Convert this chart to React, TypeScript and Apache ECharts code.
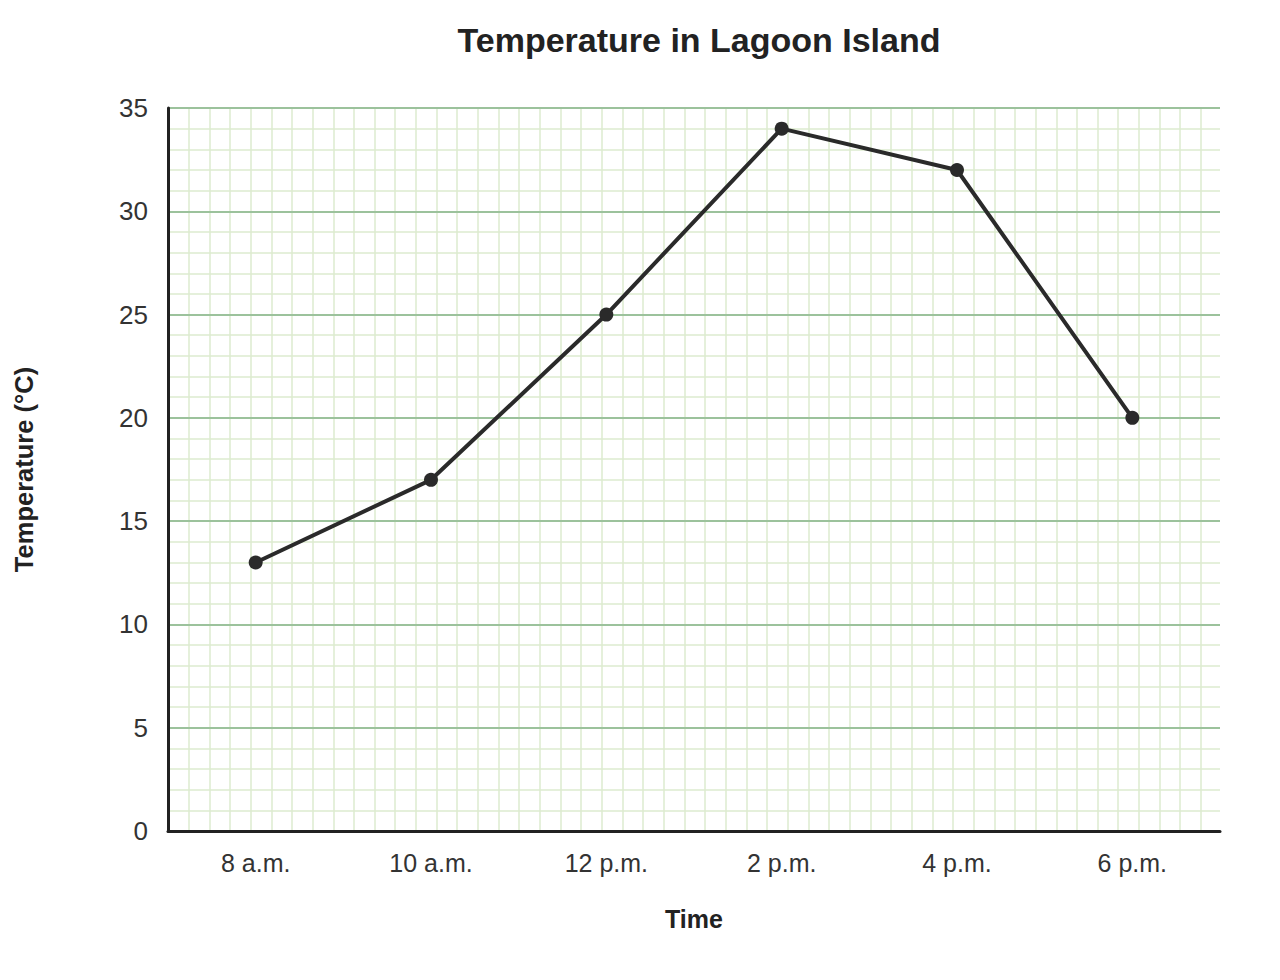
import React, { useEffect, useRef } from "react";
import * as echarts from "echarts";

const categories = ["8 a.m.", "10 a.m.", "12 p.m.", "2 p.m.", "4 p.m.", "6 p.m."];
const temperatures = [13, 17, 25, 34, 32, 20];
const yTicks = { min: 0, max: 35, interval: 5 };
const titleText = "Temperature in Lagoon Island";
const xName = "Time";
const yName = "Temperature (°C)";

const FONT = "'Liberation Sans', Arial, sans-serif";

export default function App() {
  const ref = useRef<HTMLDivElement>(null);
  useEffect(() => {
    if (!ref.current) return;
    const chart = echarts.init(ref.current, null, { renderer: "svg" });
    const gridLeft = 168, gridRight = 60, gridTop = 108, gridBottom = 149;
    const plotW = 1280 - gridLeft - gridRight;
    const plotH = 980 - gridTop - gridBottom;
    const unitPx = plotH / (yTicks.max - yTicks.min);
    const cells = Math.floor(plotW / unitPx - 0.5);
    chart.setOption({
      animation: false,
      backgroundColor: "#ffffff",
      textStyle: { fontFamily: FONT },
      title: {
        text: titleText,
        left: gridLeft + plotW / 2,
        textAlign: "center",
        top: 18,
        textStyle: { fontSize: 34, fontWeight: "bold", color: "#222", fontFamily: FONT },
      },
      grid: [
        { left: gridLeft, right: gridRight, top: gridTop, bottom: gridBottom, containLabel: false },
        { left: gridLeft, width: cells * unitPx, top: gridTop, bottom: gridBottom, containLabel: false },
      ],
      xAxis: [
        {
          type: "category",
          gridIndex: 0,
          data: categories,
          boundaryGap: true,
          name: xName,
          nameLocation: "middle",
          nameGap: 75,
          nameTextStyle: { fontSize: 25, fontWeight: "bold", color: "#222", fontFamily: FONT },
          axisLine: { show: true, lineStyle: { color: "#222", width: 3 } },
          axisTick: { show: false },
          axisLabel: { fontSize: 25, color: "#333", margin: 19, fontFamily: FONT },
          splitLine: { show: false },
          z: 5,
        },
        {
          type: "value",
          gridIndex: 1,
          min: 0,
          max: cells,
          interval: 1,
          show: true,
          axisLine: { show: false },
          axisTick: { show: false },
          axisLabel: { show: false },
          splitLine: { show: true, lineStyle: { color: "#dcebcf", width: 1.5 } },
        },
      ],
      yAxis: [
        {
          type: "value",
          gridIndex: 0,
          min: yTicks.min,
          max: yTicks.max,
          interval: yTicks.interval,
          name: yName,
          nameLocation: "middle",
          nameGap: 131,
          nameRotate: 90,
          nameTextStyle: { fontSize: 25.5, fontWeight: "bold", color: "#222", fontFamily: FONT },
          axisLine: { show: true, lineStyle: { color: "#222", width: 3 } },
          axisTick: { show: false },
          axisLabel: { fontSize: 26, color: "#333", margin: 20, fontFamily: FONT },
          splitLine: { show: true, lineStyle: { color: "#9cc29c", width: 2 } },
          minorTick: { show: false, splitNumber: 5 },
          minorSplitLine: { show: true, lineStyle: { color: "#dcebcf", width: 1.5 } },
          z: 5,
        },
        {
          type: "value",
          gridIndex: 1,
          min: yTicks.min,
          max: yTicks.max,
          show: false,
        },
      ],
      series: [
        {
          type: "line",
          xAxisIndex: 0,
          yAxisIndex: 0,
          data: temperatures,
          symbol: "circle",
          symbolSize: 14,
          lineStyle: { color: "#2a2a2a", width: 4 },
          itemStyle: { color: "#2a2a2a" },
          z: 10,
        },
      ],
    });
    return () => chart.dispose();
  }, []);
  return <div ref={ref} style={{ width: 1280, height: 980, margin: -8 }} />;
}
